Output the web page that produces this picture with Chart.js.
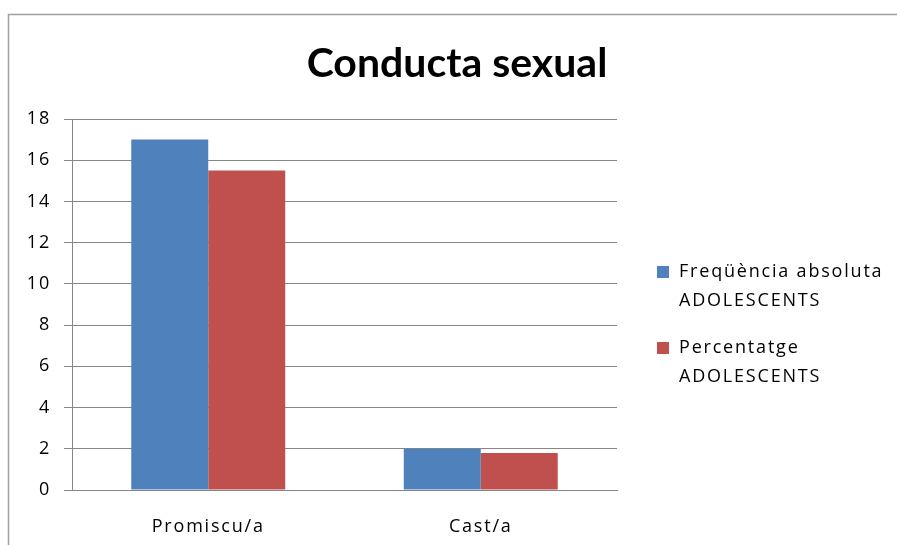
<!DOCTYPE html>
<html>
<head>
<meta charset="utf-8">
<script src="https://cdn.jsdelivr.net/npm/chart.js@4"></script>
<style>
  html, body { margin: 0; padding: 0; background: #fff; }
  #wrap { position: relative; width: 897px; height: 545px; }
</style>
</head>
<body>
<div id="wrap"><canvas id="mainChart" width="897" height="545"></canvas></div>
<script>
// chart data
const categories = ["Promiscu/a", "Cast/a"];
const seriesNames = [
  ["Freqüència absoluta", "ADOLESCENTS"],
  ["Percentatge", "ADOLESCENTS"]
];
const freqAbsoluta = [17, 2];
const percentatge = [15.5, 1.8];
const yMax = 18;
const yStep = 2;
const chartTitle = "Conducta sexual";

const colors = ["#4F81BD", "#C0504D"];
const fontFamily = "Open Sans";
const spacing = "1.8px";

// ============================
// Frame, title and legend
// ============================
const frameTitleLegend = {
  id: "frameTitleLegend",
  beforeDraw(chart) {
    // wider text spacing, like the original rendering
    chart.ctx.letterSpacing = spacing;
  },
  afterDraw(chart) {
    const { ctx } = chart;
    ctx.save();

    // outer frame
    ctx.strokeStyle = "#a0a0a0";
    ctx.lineWidth = 1.5;
    ctx.strokeRect(8.5, 14.5, 1000, 1000);

    // title
    ctx.letterSpacing = "0px";
    ctx.fillStyle = "#000";
    ctx.font = "bold 41px Lato";
    ctx.textAlign = "center";
    ctx.textBaseline = "middle";
    ctx.fillText(chartTitle, 457, 64);

    // legend
    ctx.letterSpacing = spacing;
    ctx.font = "18px " + fontFamily;
    ctx.textAlign = "left";
    const itemTops = [272, 348];
    seriesNames.forEach((lines, i) => {
      ctx.fillStyle = colors[i];
      ctx.fillRect(657, itemTops[i] - 6, 12, 12);
      ctx.fillStyle = "#000";
      lines.forEach((line, j) => {
        ctx.fillText(line, 679, itemTops[i] + j * 29);
      });
    });

    ctx.restore();
  }
};

const ctx = document.getElementById("mainChart").getContext("2d");

new Chart(ctx, {
  type: "bar",
  data: {
    labels: categories,
    datasets: [
      {
        label: seriesNames[0].join(" "),
        data: freqAbsoluta,
        backgroundColor: colors[0],
        categoryPercentage: 0.565,
        barPercentage: 1.0
      },
      {
        label: seriesNames[1].join(" "),
        data: percentatge,
        backgroundColor: colors[1],
        categoryPercentage: 0.565,
        barPercentage: 1.0
      }
    ]
  },
  options: {
    responsive: false,
    animation: false,
    layout: {
      padding: { left: 0, top: 119, right: 280, bottom: 0 }
    },
    plugins: {
      legend: { display: false },
      title: { display: false },
      tooltip: { enabled: false }
    },
    scales: {
      x: {
        grid: { display: false, drawTicks: false },
        border: { display: true, color: "#868686", width: 1 },
        ticks: {
          padding: 26,
          color: "#000",
          font: { size: 18, family: fontFamily }
        },
        afterFit(scale) { scale.height = 55; }
      },
      y: {
        min: 0,
        max: yMax,
        grid: { color: "#868686", tickLength: 8, lineWidth: 1 },
        border: { display: true, color: "#868686", width: 1 },
        ticks: {
          stepSize: yStep,
          padding: 13,
          color: "#000",
          font: { size: 18, family: fontFamily }
        },
        afterFit(scale) { scale.width = 72; }
      }
    }
  },
  plugins: [frameTitleLegend]
});
</script>
</body>
</html>
